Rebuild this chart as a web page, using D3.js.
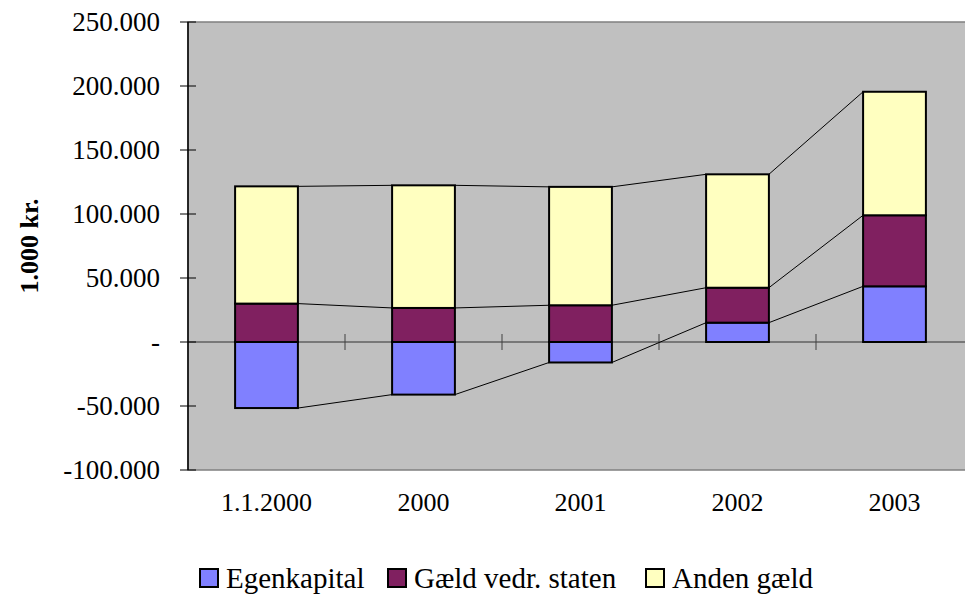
<!DOCTYPE html>
<html>
<head>
<meta charset="utf-8">
<script src="https://cdn.jsdelivr.net/npm/d3@7"></script>
<style>
  body { margin: 0; background: #fff; }
  text { font-family: "Liberation Serif", "DejaVu Serif", serif; fill: #000; }
</style>
</head>
<body>
<svg id="chart" width="965" height="601"></svg>
<script>
// data (1.000 kr.)
const categories = ["1.1.2000", "2000", "2001", "2002", "2003"];
const seriesNames = ["Egenkapital", "Gæld vedr. staten", "Anden gæld"];
const egenkapital = [-51600, -41100, -16000, 15100, 43500];
const gaeldStaten = [30000, 26600, 28700, 27300, 55500];
const andenGaeld = [91600, 95800, 92500, 88600, 96500];
const colors = ["#8080ff", "#802060", "#ffffc0"];
const yTicks = [-100000, -50000, 0, 50000, 100000, 150000, 200000, 250000];
const yTickLabels = ["-100.000", "-50.000", "-", "50.000", "100.000", "150.000", "200.000", "250.000"];

const rows = categories.map((c, i) => ({
    cat: c,
    "Egenkapital": egenkapital[i],
    "Gæld vedr. staten": gaeldStaten[i],
    "Anden gæld": andenGaeld[i]
}));

const svg = d3.select("#chart");
const plot = {left: 188, top: 22, right: 973, bottom: 470};

const x = d3.scaleBand()
    .domain(categories)
    .range([plot.left, plot.right])
    .paddingInner(0.6)
    .paddingOuter(0.3);

const y = d3.scaleLinear()
    .domain([-100000, 250000])
    .range([plot.bottom, plot.top]);

const stacked = d3.stack()
    .keys(seriesNames)
    .offset(d3.stackOffsetDiverging)(rows);

// plot background
svg.append("rect")
    .attr("x", plot.left).attr("y", plot.top)
    .attr("width", plot.right - plot.left)
    .attr("height", plot.bottom - plot.top)
    .style("fill", "#c0c0c0")
    .style("stroke", "#808080")
    .style("stroke-width", 1.5);

// zero line
svg.append("line")
    .attr("x1", plot.left).attr("x2", plot.right)
    .attr("y1", y(0)).attr("y2", y(0))
    .style("stroke", "#606060")
    .style("stroke-width", 1.5);

// category ticks on zero line
const step = x.step();
svg.selectAll(".cat-tick")
    .data(categories.slice(1))
    .join("line")
    .classed("cat-tick", true)
    .attr("x1", d => x(d) - x.paddingInner() * step / 2)
    .attr("x2", d => x(d) - x.paddingInner() * step / 2)
    .attr("y1", y(0) - 8)
    .attr("y2", y(0) + 8)
    .style("stroke", "#404040")
    .style("stroke-width", 1);

// series lines between bars
const endOf = (d, key) => (d.data[key] < 0 ? d[0] : d[1]);
stacked.forEach(s => {
    const segs = d3.pairs(s);
    svg.selectAll(null)
        .data(segs)
        .join("line")
        .attr("x1", d => x(d[0].data.cat) + x.bandwidth())
        .attr("y1", d => y(endOf(d[0], s.key)))
        .attr("x2", d => x(d[1].data.cat))
        .attr("y2", d => y(endOf(d[1], s.key)))
        .style("stroke", "#000")
        .style("stroke-width", 1);
});

// bars
svg.selectAll(".series")
    .data(stacked)
    .join("g")
    .classed("series", true)
    .style("fill", (d, i) => colors[i])
    .selectAll("rect")
    .data(d => d)
    .join("rect")
    .attr("x", d => x(d.data.cat))
    .attr("y", d => y(d[1]))
    .attr("width", x.bandwidth())
    .attr("height", d => y(d[0]) - y(d[1]))
    .style("stroke", "#000")
    .style("stroke-width", 2);

// y axis
svg.append("line")
    .attr("x1", plot.left).attr("x2", plot.left)
    .attr("y1", plot.top).attr("y2", plot.bottom)
    .style("stroke", "#000")
    .style("stroke-width", 1.5);

const yAxis = svg.append("g");
yAxis.selectAll("line")
    .data(yTicks)
    .join("line")
    .attr("x1", plot.left - 8).attr("x2", plot.left + 8)
    .attr("y1", d => y(d)).attr("y2", d => y(d))
    .style("stroke", "#000")
    .style("stroke-width", 1);
yAxis.selectAll("text")
    .data(yTicks)
    .join("text")
    .attr("x", 160)
    .attr("y", d => y(d))
    .attr("dy", "0.35em")
    .attr("text-anchor", "end")
    .style("font-size", "27px")
    .text((d, i) => yTickLabels[i]);

// x labels
svg.selectAll(".x-label")
    .data(categories)
    .join("text")
    .classed("x-label", true)
    .attr("x", d => x(d) + x.bandwidth() / 2)
    .attr("y", 511)
    .attr("text-anchor", "middle")
    .style("font-size", "26px")
    .text(d => d);

// y title
svg.append("text")
    .attr("transform", `translate(38,${(plot.top + plot.bottom) / 2}) rotate(-90)`)
    .attr("text-anchor", "middle")
    .style("font-size", "26px")
    .style("font-weight", "bold")
    .text("1.000 kr.");

// legend
const legendX = [200, 388, 646];
const legend = svg.selectAll(".legend")
    .data(seriesNames)
    .join("g")
    .classed("legend", true)
    .attr("transform", (d, i) => `translate(${legendX[i]},569)`);
legend.append("rect")
    .attr("width", 18).attr("height", 18)
    .style("fill", (d, i) => colors[i])
    .style("stroke", "#000")
    .style("stroke-width", 2);
legend.append("text")
    .attr("x", 26)
    .attr("y", 19)
    .style("font-size", "29px")
    .text(d => d);
</script>
</body>
</html>
